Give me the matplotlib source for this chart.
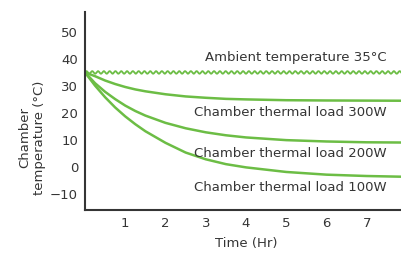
import numpy as np
import matplotlib
matplotlib.use("Agg")
import matplotlib.pyplot as plt
from matplotlib.patheffects import AbstractPathEffect
from matplotlib.path import Path
from matplotlib.transforms import IdentityTransform

# -----------------------
# Data
# -----------------------
hours = [0, 0.25, 0.5, 0.75, 1, 1.25, 1.5, 2, 2.5, 3, 3.5, 4, 5, 6, 7, 8]
load_300w = [35, 33.6, 32.0, 30.7, 29.6, 28.7, 28.0, 26.9, 26.1, 25.6, 25.2, 25.0, 24.7, 24.6, 24.55, 24.5]
load_200w = [35, 31.0, 27.8, 25.1, 22.7, 20.7, 19.0, 16.3, 14.3, 12.8, 11.7, 10.9, 9.9, 9.4, 9.1, 9.0]
load_100w = [35, 30.1, 25.8, 22.0, 18.7, 15.8, 13.2, 8.9, 5.3, 2.8, 1.0, -0.2, -1.9, -2.9, -3.4, -3.7]
ambient_hours = [0, 8]
ambient_temp = [35, 35]

x_ticks = [1, 2, 3, 4, 5, 6, 7, 8]
y_ticks = [-10, 0, 10, 20, 30, 40, 50]

labels = ["Ambient temperature 35°C", "Chamber thermal load 300W",
          "Chamber thermal load 200W", "Chamber thermal load 100W"]
label_y = [40.4, 20.0, 4.8, -7.8]

GREEN = "#6cbd45"
GREY = "#353535"


# -----------------------
# Wavy line style
# -----------------------
class Wavy(AbstractPathEffect):
    """Draws the path as a sine wiggle in screen space."""
    def __init__(self, amp=1.3, period=5.8):
        super().__init__()
        self.amp = amp
        self.period = period

    def draw_path(self, renderer, gc, tpath, affine, rgbFace=None):
        pts = affine.transform(tpath.vertices)
        (x0, y0), (x1, y1) = pts[0], pts[-1]
        length = np.hypot(x1 - x0, y1 - y0)
        s = np.linspace(0, length, int(length * 4) + 2)
        ux, uy = (x1 - x0) / length, (y1 - y0) / length
        off = self.amp * np.sin(2 * np.pi * s / self.period)
        xs = x0 + ux * s - uy * off
        ys = y0 + uy * s + ux * off
        renderer.draw_path(gc, Path(np.column_stack([xs, ys])), IdentityTransform(), None)


plt.rcParams['font.family'] = ['DejaVu Sans']

fig = plt.figure(figsize=(4.01, 2.57), dpi=100)
ax = fig.add_axes([85 / 401, 47 / 257, 322 / 401, 198 / 257])

for series in (load_300w, load_200w, load_100w):
    ax.plot(hours, series, color=GREEN, lw=1.8, solid_capstyle="round")
ax.plot(ambient_hours, ambient_temp, color=GREEN, lw=1.3, path_effects=[Wavy()])

for text, y in zip(labels, label_y):
    ax.text(7.5, y, text, ha="right", va="center", fontsize=9.5, color=GREY)

ax.set_xlim(0, 8)
ax.set_ylim(-16, 57.4)
ax.set_xticks(x_ticks)
ax.set_yticks(y_ticks)
ax.set_yticklabels(["\u221210" if t < 0 else str(t) for t in y_ticks])
ax.tick_params(length=0, labelsize=9.5, labelcolor=GREY, pad=5)
for side in ("top", "right"):
    ax.spines[side].set_visible(False)
for side in ("left", "bottom"):
    ax.spines[side].set_color(GREY)
    ax.spines[side].set_linewidth(1.5)

fig.text(32 / 401, 1 - 138 / 257, "Chamber\ntemperature (°C)", rotation=90,
         ha="center", va="center", fontsize=9.5, color=GREY, multialignment="center")
fig.text(246 / 401, 1 - 243 / 257, "Time (Hr)", ha="center", va="center",
         fontsize=9.5, color=GREY)

fig.savefig("out.png", dpi=100)
